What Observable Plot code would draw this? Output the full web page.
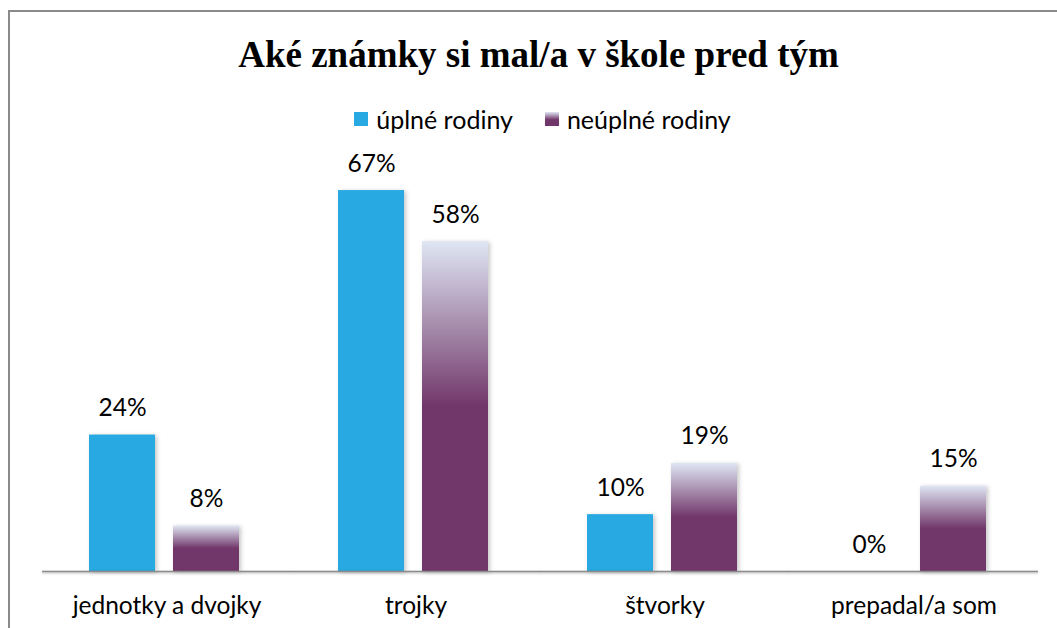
<!DOCTYPE html>
<html><head><meta charset="utf-8">
<script src="https://cdn.jsdelivr.net/npm/d3@7"></script>
<script src="https://cdn.jsdelivr.net/npm/@observablehq/plot@0.6"></script>
<style>
body{margin:0;background:#fff;}
#wrap{position:relative;width:1057px;height:628px;overflow:hidden;background:#fff;}
#frame{position:absolute;left:8px;top:10px;width:1200px;height:800px;border-left:2px solid #8a8a8a;border-top:2px solid #8a8a8a;}
#title{position:absolute;left:10px;top:36px;width:1057px;text-align:center;font-family:"Liberation Serif","Times New Roman",serif;font-weight:bold;font-size:37px;line-height:37px;color:#000;}
#legend{position:absolute;left:14px;top:105px;width:1057px;height:28px;display:flex;justify-content:center;align-items:center;font-family:Lato,"Open Sans",sans-serif;font-size:25px;color:#000;}
#legend .item{display:flex;align-items:center;margin:0 16px;}
#legend .sw{width:14px;height:14px;margin-right:8px;}
#chart{position:absolute;left:0;top:141px;}
#chart svg g[aria-label="bar"] rect{filter:drop-shadow(2px 1px 2px rgba(0,0,0,0.22));}
</style>
</head><body>
<div id="wrap">
  <div id="frame"></div>
  <div id="title"></div>
  <div id="legend"></div>
  <div id="chart"></div>
</div>
<script>
const titleText = "Aké známky si mal/a v škole pred tým";
const categories = ["jednotky a dvojky", "trojky", "štvorky", "prepadal/a som"];
const series = ["úplné rodiny", "neúplné rodiny"];
const uplneRodiny = [24, 67, 10, 0];
const neuplneRodiny = [8, 58, 19, 15];
const seriesValues = [uplneRodiny, neuplneRodiny];
const colors = ["#29a9e1", "url(#purpleGrad)"];
const swatchCss = ["#29a9e1", "linear-gradient(#dfe6f3, #71376a 55%)"];

const rows = [];
categories.forEach((c, i) => series.forEach((s, j) => rows.push({cat: c, series: s, value: seriesValues[j][i]})));

document.getElementById("title").textContent = titleText;
const legend = document.getElementById("legend");
series.forEach((s, j) => {
  const item = document.createElement("div");
  item.className = "item";
  const sw = document.createElement("div");
  sw.className = "sw";
  sw.style.background = swatchCss[j];
  const t = document.createElement("span");
  t.textContent = s;
  item.appendChild(sw); item.appendChild(t);
  legend.appendChild(item);
});

const chart = Plot.plot({
  width: 1057,
  height: 487,
  marginLeft: 40,
  marginRight: 18,
  marginTop: 32,
  marginBottom: 57,
  style: {background: "transparent", overflow: "visible", fontFamily: "Lato, 'Open Sans', sans-serif", fontSize: "24.5px", color: "#000"},
  fx: {domain: categories, padding: 0, label: null},
  x: {domain: series, paddingInner: 0.21, paddingOuter: 0.57, axis: null},
  y: {domain: [0, 70], axis: null},
  color: {domain: series, range: colors},
  marks: [
    Plot.barY(rows, {fx: "cat", x: "series", y: "value", fill: "series", dx: -2}),
    Plot.ruleY([0], {stroke: "#8c8c8c", strokeWidth: 1.5}),
    Plot.text(rows, {fx: "cat", x: "series", y: "value", text: d => d.value + "%", lineAnchor: "bottom", dy: -19, dx: -2, fontSize: 24.5, fill: "#000"}),
    Plot.axisFx({anchor: "bottom", tickSize: 0, tickPadding: 25, fontSize: 24.5, label: null})
  ]
});

const defs = d3.select(chart).insert("defs", ":first-child");
const g = defs.append("linearGradient").attr("id", "purpleGrad").attr("x1", 0).attr("y1", 0).attr("x2", 0).attr("y2", 1);
g.append("stop").attr("offset", "0").attr("stop-color", "#dfe6f3");
g.append("stop").attr("offset", "0.5").attr("stop-color", "#71376a");
g.append("stop").attr("offset", "1").attr("stop-color", "#71376a");
d3.select(chart).selectAll('g[aria-label="rule"] line').style("filter", "drop-shadow(0px 1px 1px rgba(0,0,0,0.3))");

document.getElementById("chart").appendChild(chart);
</script>
</body></html>
